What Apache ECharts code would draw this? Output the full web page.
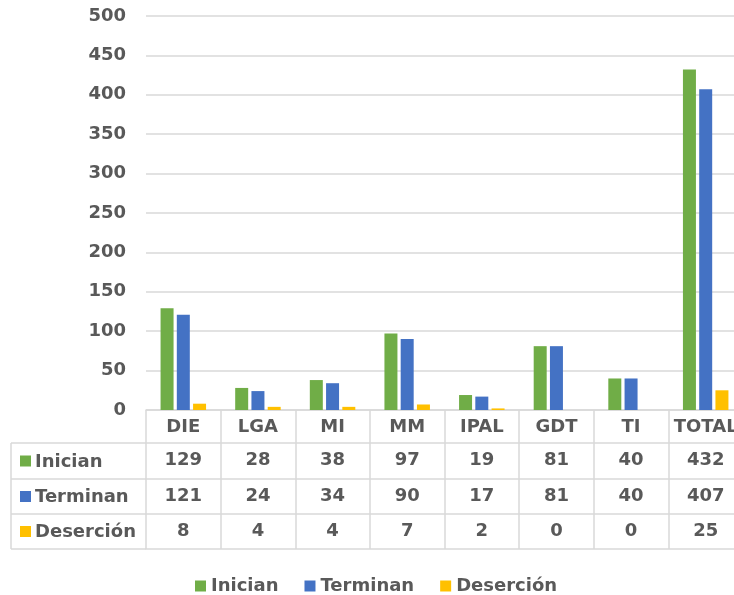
<!DOCTYPE html>
<html><head><meta charset="utf-8">
<script src="https://cdn.jsdelivr.net/npm/echarts@6/dist/echarts.min.js"></script>
<style>html,body{margin:0;padding:0;background:#fff}#c{width:734px;height:595px}</style>
</head><body><div id="c"></div>
<script>
const categories = ['DIE','LGA','MI','MM','IPAL','GDT','TI','TOTAL'];
const inician = [129,28,38,97,19,81,40,432];
const terminan = [121,24,34,90,17,81,40,407];
const desercion = [8,4,4,7,2,0,0,25];
const seriesNames = ['Inician','Terminan','Deserción'];
const yMin = 0, yMax = 500, yInterval = 50;
const colors = ['#70AD47','#4472C4','#FFC000'];
const rows = [inician, terminan, desercion];

const FONT = '"DejaVu Sans"';
const TXT = '#595959';
const LINE = '#D9D9D9';
const FS = 18;
const axisY = 410;
const rowOffsets = [33, 69, 104, 139];
const tableLeft = 11, gridLeft = 146, gridWidth = 597;

const chart = echarts.init(document.getElementById('c'), null, {renderer:'canvas'});

const xAxes = [{
  type:'category', data:categories, gridIndex:0, position:'bottom',
  axisLine:{show:true, lineStyle:{color:LINE, width:1.5}},
  axisTick:{show:true, length:rowOffsets[3], lineStyle:{color:LINE, width:1.5}},
  axisLabel:{interval:0, margin:8, fontSize:FS, fontWeight:'bold', color:TXT, fontFamily:FONT}
}];
rows.forEach((r, i) => {
  xAxes.push({
    type:'category', data:categories, gridIndex:0, position:'bottom', offset:rowOffsets[i],
    axisLine:{show:true, lineStyle:{color:LINE, width:1.5}},
    axisTick:{show:false},
    axisLabel:{interval:0, margin:8, fontSize:FS, fontWeight:'bold', color:TXT, fontFamily:FONT,
      formatter:(v, idx) => String(r[idx])}
  });
});
xAxes.push({
  type:'category', data:categories, gridIndex:0, position:'bottom', offset:rowOffsets[3],
  axisLine:{show:true, lineStyle:{color:LINE, width:1.5}},
  axisTick:{show:false}, axisLabel:{show:false}
});

const graphic = [];
rowOffsets.forEach(o => {
  graphic.push({type:'line', shape:{x1:tableLeft, y1:axisY+o, x2:gridLeft, y2:axisY+o},
    style:{stroke:LINE, lineWidth:1.5}, silent:true});
});
graphic.push({type:'line', shape:{x1:tableLeft, y1:axisY+rowOffsets[0], x2:tableLeft, y2:axisY+rowOffsets[3]},
  style:{stroke:LINE, lineWidth:1.5}, silent:true});
seriesNames.forEach((n, i) => {
  const cy = axisY + (rowOffsets[i] + rowOffsets[i+1]) / 2;
  graphic.push({type:'rect', shape:{x:20, y:cy-5.5, width:11, height:11}, style:{fill:colors[i]}, silent:true});
  graphic.push({type:'text', x:35, y:cy+1, style:{text:n, fill:TXT, font:'bold '+FS+'px '+FONT, verticalAlign:'middle', align:'left'}, silent:true});
});

chart.setOption({
  animation:false,
  backgroundColor:'#fff',
  grid:{left:gridLeft, width:gridWidth, top:16, bottom:595-axisY, containLabel:false, outerBoundsMode:'none'},
  legend:{
    data:seriesNames, top:572, left:190, itemGap:26, icon:'rect', itemWidth:11, itemHeight:11,
    textStyle:{fontSize:FS, fontWeight:'bold', color:TXT, fontFamily:FONT}
  },
  xAxis:xAxes,
  yAxis:{
    type:'value', min:yMin, max:yMax, interval:yInterval,
    axisLine:{show:false}, axisTick:{show:false},
    axisLabel:{margin:20, fontSize:FS, fontWeight:'bold', color:TXT, fontFamily:FONT},
    splitLine:{lineStyle:{color:LINE, width:1.5}}
  },
  graphic:graphic,
  series: rows.map((r, i) => ({
    name:seriesNames[i], type:'bar', data:r, xAxisIndex:0,
    barWidth:13, barGap:'25%',
    itemStyle:{color:colors[i]}
  }))
});
</script></body></html>
